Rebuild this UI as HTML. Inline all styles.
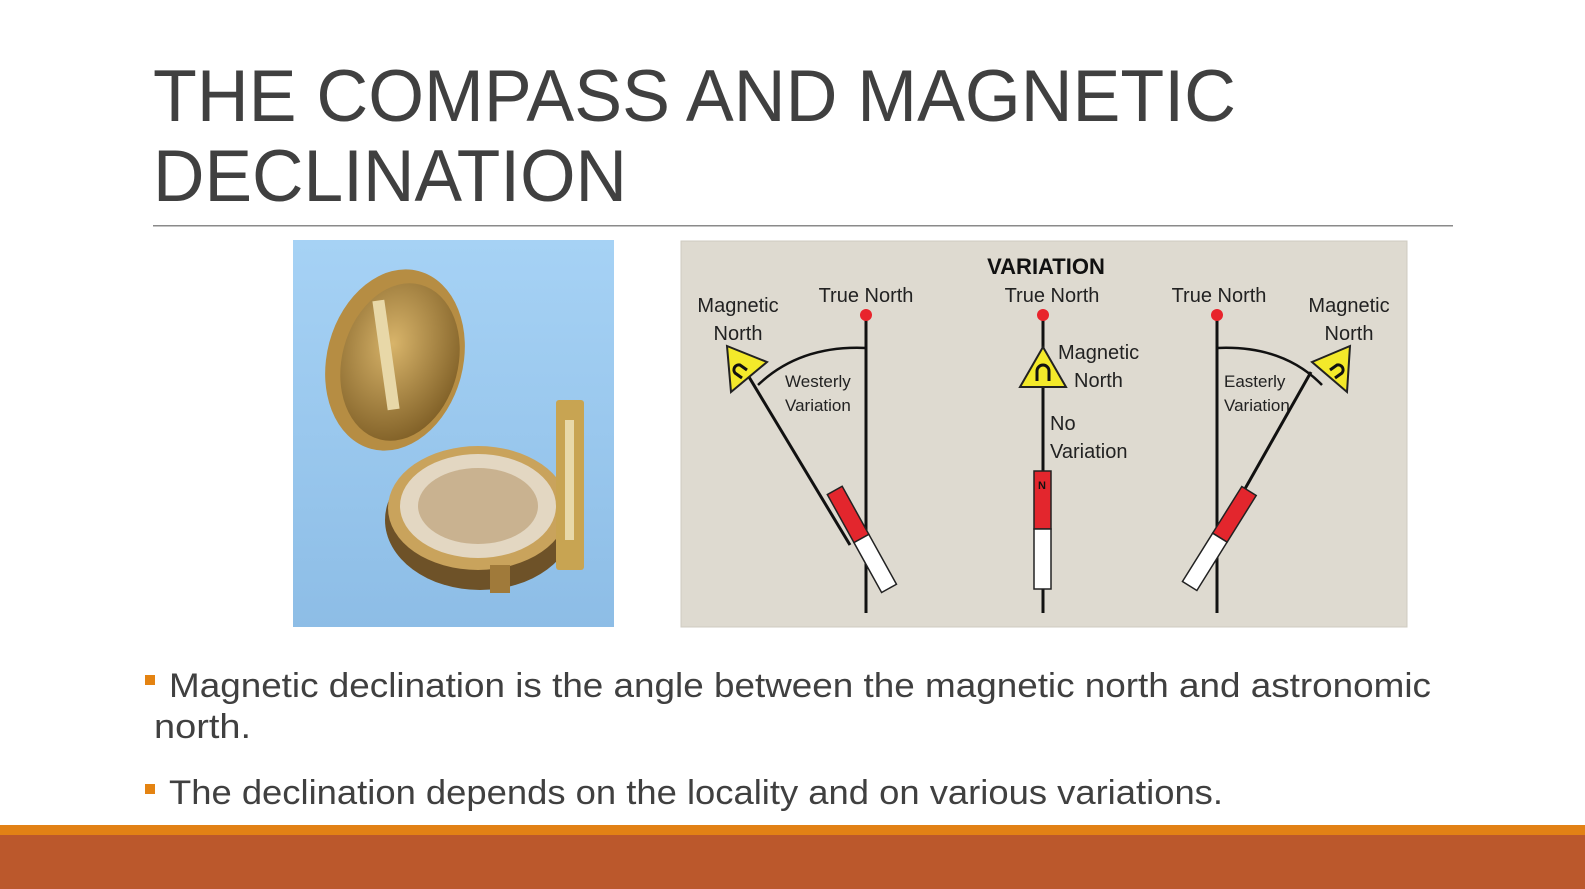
<!DOCTYPE html>
<html><head><meta charset="utf-8"><style>
html,body{margin:0;padding:0;background:#fff;}
svg{display:block;}
</style></head><body>
<svg width="1585" height="889" viewBox="0 0 1585 889" xmlns="http://www.w3.org/2000/svg" font-family="Liberation Sans, sans-serif">
<rect width="1585" height="889" fill="#fff"/>
<!-- title -->
<text x="153" y="121" font-size="73" fill="#404040" textLength="1083" lengthAdjust="spacingAndGlyphs">THE COMPASS AND MAGNETIC</text>
<text x="153" y="201" font-size="73" fill="#404040" textLength="474" lengthAdjust="spacingAndGlyphs">DECLINATION</text>
<rect x="153" y="225" width="1300" height="1.5" fill="#8a8a8a"/>
<!-- photo -->
<defs>
<linearGradient id="bg" x1="0" y1="0" x2="0" y2="1"><stop offset="0" stop-color="#a6d2f5"/><stop offset="1" stop-color="#8dbde6"/></linearGradient>
<radialGradient id="gold" cx="0.4" cy="0.4" r="0.7"><stop offset="0" stop-color="#d8b46a"/><stop offset="1" stop-color="#7a5a22"/></radialGradient>
</defs>
<rect x="293" y="240" width="321" height="387" fill="url(#bg)"/>
<ellipse cx="480" cy="520" rx="95" ry="70" fill="#6e5228"/>
<ellipse cx="478" cy="508" rx="90" ry="62" fill="#c9a35c"/>
<ellipse cx="478" cy="506" rx="78" ry="52" fill="#e3d7c2"/>
<ellipse cx="478" cy="506" rx="60" ry="38" fill="#b79a6e" opacity="0.6"/>
<ellipse cx="395" cy="360" rx="68" ry="92" fill="#b68d43" transform="rotate(15 395 360)"/>
<ellipse cx="400" cy="362" rx="58" ry="80" fill="url(#gold)" transform="rotate(15 400 362)"/>
<rect x="380" y="300" width="12" height="110" fill="#e8d8a8" transform="rotate(-8 386 355)"/>
<rect x="556" y="400" width="28" height="170" rx="3" fill="#c8a452"/>
<rect x="565" y="420" width="9" height="120" fill="#e8d8a8"/>
<rect x="490" y="565" width="20" height="28" fill="#a07a3a"/>
<!-- diagram panel -->
<rect x="681" y="241" width="726" height="386" fill="#dedad0" stroke="#cfcbc0"/>
<text x="1046" y="274" font-size="22" font-weight="bold" fill="#111" text-anchor="middle">VARIATION</text>
<g font-size="20" fill="#222" text-anchor="middle">
<text x="866" y="302">True North</text>
<text x="1052" y="302">True North</text>
<text x="1219" y="302">True North</text>
<text x="738" y="312">Magnetic</text>
<text x="738" y="340">North</text>
<text x="1349" y="312">Magnetic</text>
<text x="1349" y="340">North</text>
</g>
<g font-size="20" fill="#222">
<text x="1058" y="359">Magnetic</text>
<text x="1074" y="387">North</text>
<text x="1050" y="430">No</text>
<text x="1050" y="458">Variation</text>
</g>
<g font-size="17" fill="#222">
<text x="785" y="387">Westerly</text>
<text x="785" y="411">Variation</text>
<text x="1224" y="387">Easterly</text>
<text x="1224" y="411">Variation</text>
</g>
<g stroke="#111" stroke-width="3" fill="none">
<line x1="866" y1="318" x2="866" y2="613"/>
<line x1="1043" y1="318" x2="1043" y2="613"/>
<line x1="1217" y1="318" x2="1217" y2="613"/>
<line x1="746" y1="372" x2="850" y2="545"/>
<line x1="1311" y1="372" x2="1233" y2="510"/>
<path d="M866 348 Q800 345 758 385" stroke-width="2.5"/>
<path d="M1217 348 Q1283 345 1322 385" stroke-width="2.5"/>
</g>
<g fill="#e8242c">
<circle cx="866" cy="315" r="6"/><circle cx="1043" cy="315" r="6"/><circle cx="1217" cy="315" r="6"/>
</g>
<!-- needles -->
<g stroke="#222" stroke-width="1.5">
<g transform="rotate(-29 860 537)">
<rect x="852" y="484" width="17" height="55" fill="#e3262d"/>
<rect x="852" y="539" width="17" height="57" fill="#fff"/>
</g>
<rect x="1034" y="471" width="17" height="58" fill="#e3262d"/>
<rect x="1034" y="529" width="17" height="60" fill="#fff"/>
<g transform="rotate(32 1224 532)">
<rect x="1215" y="484" width="17" height="55" fill="#e3262d"/>
<rect x="1215" y="539" width="17" height="57" fill="#fff"/>
</g>
</g>
<g font-size="11" font-weight="bold" fill="#111" text-anchor="middle">
<text x="1042" y="489">N</text>
</g>
<!-- triangles -->
<g fill="#f3e92a" stroke="#222" stroke-width="2">
<polygon points="727,346 767,362 731,392"/>
<polygon points="1043,347 1020,387 1066,387"/>
<polygon points="1350,346 1312,362 1347,392"/>
</g>
<g fill="none" stroke="#111" stroke-width="3">
<path d="M1037 381 v-10 a6 6 0 0 1 12 0 v10"/>
<path d="M742 378 l-7 -5 a5 5 0 0 1 5 -8 l7 5" />
<path d="M1335 378 l7 -5 a5 5 0 0 0 -5 -8 l-7 5"/>
</g>
<!-- bullets -->
<rect x="145" y="675" width="10" height="10" fill="#e48312"/>
<rect x="145" y="784" width="10" height="10" fill="#e48312"/>
<g font-size="34" fill="#404040">
<text x="169" y="697" textLength="1262" lengthAdjust="spacingAndGlyphs">Magnetic declination is the angle between the magnetic north and astronomic</text>
<text x="154" y="738" textLength="97" lengthAdjust="spacingAndGlyphs">north.</text>
<text x="169" y="804" textLength="1054" lengthAdjust="spacingAndGlyphs">The declination depends on the locality and on various variations.</text>
</g>
<!-- footer -->
<rect x="0" y="825" width="1585" height="10" fill="#e28115"/>
<rect x="0" y="835" width="1585" height="54" fill="#bb582c"/>
</svg>
</body></html>
